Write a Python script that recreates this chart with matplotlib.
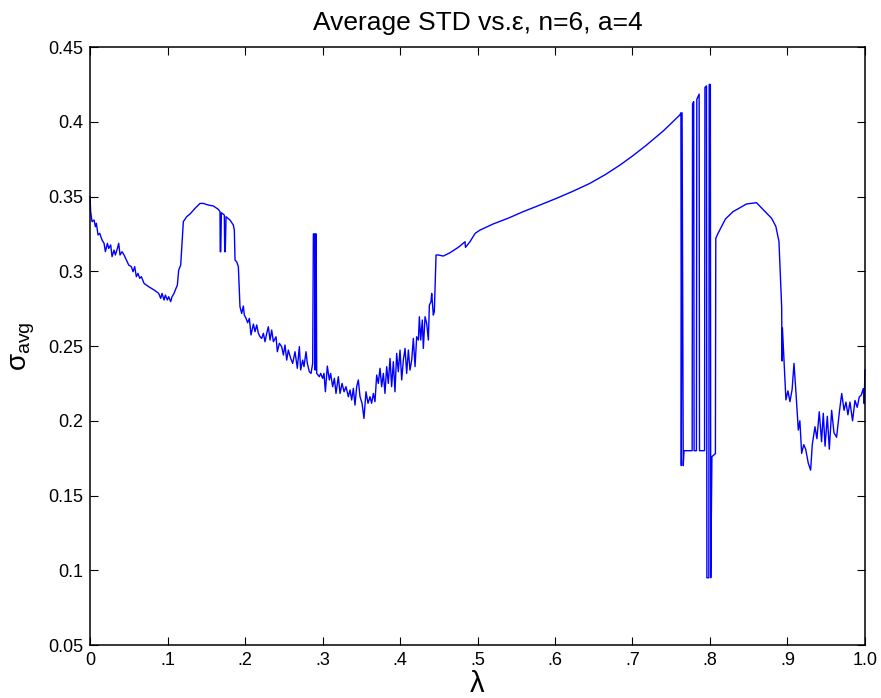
import numpy as np
import matplotlib.pyplot as plt

plt.rcParams['font.family'] = ['Liberation Sans', 'DejaVu Sans']
plt.rcParams['mathtext.fontset'] = 'custom'
plt.rcParams['mathtext.rm'] = 'Liberation Sans'
plt.rcParams['mathtext.it'] = 'Liberation Sans:italic'

# noisy decline from 0 up to the first jump
lam_a = [0.0, 0.0008, 0.0026, 0.0052, 0.0069, 0.0082, 0.0103, 0.0125, 0.0155, 0.0181,
         0.0198, 0.0224, 0.0241, 0.0267, 0.0284, 0.0310, 0.0327, 0.0353, 0.0370, 0.0387,
         0.0413, 0.0439, 0.0469, 0.0499, 0.0533, 0.0555, 0.0576, 0.0598, 0.0619, 0.0641,
         0.0662, 0.0697, 0.0727, 0.0757, 0.0791, 0.0826, 0.0856, 0.0886, 0.0912, 0.0929,
         0.0955, 0.0972, 0.0998, 0.1015, 0.1041, 0.1058, 0.1084, 0.1101, 0.1127, 0.1144,
         0.1170]
sig_a = [0.3499, 0.3399, 0.3332, 0.3343, 0.3298, 0.3321, 0.3243, 0.3254, 0.3209, 0.3187,
         0.3131, 0.3187, 0.3153, 0.3176, 0.3098, 0.3142, 0.3109, 0.3153, 0.3187, 0.3109,
         0.3131, 0.3109, 0.3075, 0.3042, 0.3031, 0.2997, 0.3031, 0.2964, 0.2986, 0.2953,
         0.2964, 0.2919, 0.2908, 0.2897, 0.2886, 0.2875, 0.2864, 0.2852, 0.2819, 0.2852,
         0.2808, 0.2841, 0.2808, 0.2830, 0.2797, 0.2830, 0.2852, 0.2875, 0.2908, 0.3008,
         0.3042]

# first plateau and second decline
lam_b = [0.1204, 0.1247, 0.1290, 0.1355, 0.1419, 0.1462, 0.1527, 0.1591, 0.1656, 0.1677,
         0.1680, 0.1687, 0.1695, 0.1733, 0.1738, 0.1745, 0.1755, 0.1806, 0.1849, 0.1862,
         0.1871, 0.1892, 0.1914, 0.1935, 0.1957, 0.1978, 0.1991, 0.2013, 0.2034, 0.2056,
         0.2077, 0.2108, 0.2129, 0.2151, 0.2172, 0.2194, 0.2215, 0.2237, 0.2258, 0.2280,
         0.2301, 0.2323, 0.2344, 0.2366, 0.2400, 0.2417, 0.2443, 0.2473, 0.2495, 0.2516,
         0.2538, 0.2559, 0.2589, 0.2615, 0.2645, 0.2675, 0.2701, 0.2718, 0.2744, 0.2761,
         0.2787]
sig_b = [0.3332, 0.3365, 0.3383, 0.3421, 0.3454, 0.3454, 0.3443, 0.3437, 0.3414, 0.3399,
         0.3131, 0.3131, 0.3392, 0.3376, 0.3131, 0.3131, 0.3365, 0.3343, 0.3309, 0.3276,
         0.3075, 0.3064, 0.3031, 0.2763, 0.2718, 0.2768, 0.2707, 0.2685, 0.2656, 0.2685,
         0.2574, 0.2647, 0.2596, 0.2641, 0.2585, 0.2562, 0.2551, 0.2585, 0.2529, 0.2585,
         0.2629, 0.2540, 0.2607, 0.2529, 0.2562, 0.2462, 0.2518, 0.2496, 0.2440, 0.2507,
         0.2406, 0.2473, 0.2418, 0.2384, 0.2462, 0.2351, 0.2496, 0.2340, 0.2406, 0.2362,
         0.2462]

# spike near .29, valley and rise to .45
lam_c = [0.2804, 0.2830, 0.2852, 0.2873, 0.2882, 0.2899, 0.2905, 0.2912, 0.2918, 0.2925,
         0.2959, 0.2976, 0.3002, 0.3019, 0.3037, 0.3062, 0.3088, 0.3105, 0.3131, 0.3153,
         0.3174, 0.3204, 0.3226, 0.3252, 0.3278, 0.3303, 0.3333, 0.3355, 0.3376, 0.3398,
         0.3419, 0.3441, 0.3462, 0.3484, 0.3510, 0.3535, 0.3561, 0.3587, 0.3613, 0.3634,
         0.3656, 0.3677, 0.3699, 0.3720, 0.3742, 0.3763, 0.3785, 0.3806, 0.3828, 0.3849,
         0.3871, 0.3892, 0.3914, 0.3935, 0.3957, 0.3978, 0.4000, 0.4022, 0.4043, 0.4065,
         0.4086, 0.4108, 0.4129, 0.4151, 0.4172, 0.4194, 0.4215, 0.4237, 0.4250, 0.4267,
         0.4288, 0.4301, 0.4323, 0.4344, 0.4366, 0.4379, 0.4400, 0.4409, 0.4430, 0.4443,
         0.4465, 0.4495, 0.4559, 0.4645, 0.4731, 0.4774]
sig_c = [0.2384, 0.2328, 0.2317, 0.2384, 0.3250, 0.3250, 0.2339, 0.3250, 0.3250, 0.2317,
         0.2295, 0.2317, 0.2284, 0.2317, 0.2194, 0.2366, 0.2273, 0.2317, 0.2228, 0.2284,
         0.2183, 0.2295, 0.2183, 0.2250, 0.2194, 0.2228, 0.2161, 0.2206, 0.2139, 0.2217,
         0.2105, 0.2228, 0.2273, 0.2161, 0.2117, 0.2016, 0.2194, 0.2117, 0.2161, 0.2117,
         0.2183, 0.2128, 0.2306, 0.2250, 0.2351, 0.2228, 0.2317, 0.2183, 0.2362, 0.2250,
         0.2417, 0.2228, 0.2395, 0.2194, 0.2451, 0.2328, 0.2473, 0.2273, 0.2406, 0.2484,
         0.2317, 0.2473, 0.2339, 0.2406, 0.2551, 0.2362, 0.2562, 0.2540, 0.2696, 0.2540,
         0.2674, 0.2484, 0.2696, 0.2652, 0.2540, 0.2774, 0.2797, 0.2852, 0.2707, 0.2730,
         0.3109, 0.3109, 0.3102, 0.3124, 0.3153, 0.3169]

# smooth climb
lam_d = [0.4839, 0.4845, 0.4903, 0.4970, 0.5030, 0.5200, 0.5400, 0.5590, 0.5800, 0.6020,
         0.6230, 0.6450, 0.6650, 0.6840, 0.7010, 0.7180, 0.7400, 0.7610]
sig_d = [0.3198, 0.3160, 0.3198, 0.3254, 0.3275, 0.3316, 0.3356, 0.3399, 0.3442, 0.3488,
         0.3535, 0.3588, 0.3647, 0.3711, 0.3775, 0.3844, 0.3940, 0.4045]

# switching spikes around .8
lam_e = [0.7625, 0.7630, 0.7640, 0.7655, 0.7665, 0.7770, 0.7775, 0.7790, 0.7795, 0.7825,
         0.7830, 0.7860, 0.7865, 0.7930, 0.7935, 0.7955, 0.7960, 0.7985, 0.7990, 0.8005,
         0.8010, 0.8025, 0.8070, 0.8075, 0.8100]
sig_e = [0.4060, 0.1700, 0.4060, 0.1700, 0.1800, 0.1800, 0.4120, 0.4135, 0.1800, 0.1800,
         0.4150, 0.4185, 0.1800, 0.1800, 0.4230, 0.4240, 0.0950, 0.0950, 0.4250, 0.4250,
         0.0950, 0.1760, 0.1780, 0.3220, 0.3250]

# second plateau and noisy tail
lam_f = [0.8150, 0.8200, 0.8300, 0.8387, 0.8470, 0.8600, 0.8710, 0.8796, 0.8850, 0.8890,
         0.8925, 0.8930, 0.8935, 0.8980, 0.9006, 0.9032, 0.9060, 0.9084, 0.9110, 0.9140,
         0.9160, 0.9183, 0.9210, 0.9235, 0.9269, 0.9299, 0.9320, 0.9355, 0.9380, 0.9410,
         0.9440, 0.9462, 0.9485, 0.9514, 0.9540, 0.9570, 0.9600, 0.9634, 0.9670, 0.9700,
         0.9730, 0.9755, 0.9780, 0.9806, 0.9840, 0.9871, 0.9900, 0.9927, 0.9950, 0.9978,
         0.9990, 1.0000]
sig_f = [0.3300, 0.3350, 0.3400, 0.3425, 0.3450, 0.3459, 0.3400, 0.3354, 0.3300, 0.3200,
         0.2763, 0.2400, 0.2620, 0.2140, 0.2200, 0.2128, 0.2210, 0.2384, 0.2185, 0.1938,
         0.2000, 0.1782, 0.1840, 0.1810, 0.1715, 0.1670, 0.1840, 0.1960, 0.1880, 0.2060,
         0.1860, 0.2050, 0.1830, 0.2030, 0.1810, 0.2070, 0.1920, 0.1890, 0.2060, 0.2183,
         0.2070, 0.2125, 0.2040, 0.2125, 0.2000, 0.2136, 0.2090, 0.2160, 0.2170, 0.2215,
         0.2115, 0.2340]

x_ticks = [0, 0.1, 0.2, 0.3, 0.4, 0.5, 0.6, 0.7, 0.8, 0.9, 1.0]
x_tick_labels = ['0', '.1', '.2', '.3', '.4', '.5', '.6', '.7', '.8', '.9', '1.0']
y_ticks = [0.05, 0.1, 0.15, 0.2, 0.25, 0.3, 0.35, 0.4, 0.45]
y_tick_labels = ['0.05', '0.1', '0.15', '0.2', '0.25', '0.3', '0.35', '0.4', '0.45']

lam = np.concatenate([lam_a, lam_b, lam_c, lam_d, lam_e, lam_f])
sig = np.concatenate([sig_a, sig_b, sig_c, sig_d, sig_e, sig_f])

fig = plt.figure(figsize=(8.81, 6.98), dpi=100)
ax = fig.add_axes([0.1022, 0.0759, 0.8796, 0.8567])
ax.plot(lam, sig, color='#0000ff', lw=1.0, clip_on=False)

ax.set_xlim(0, 1)
ax.set_ylim(0.05, 0.45)
ax.set_xticks(x_ticks)
ax.set_xticklabels(x_tick_labels)
ax.set_yticks(y_ticks)
ax.set_yticklabels(y_tick_labels)
ax.tick_params(direction='in', top=True, right=True, length=6, width=0.8,
               labelsize=13, pad=5)
for s in ax.spines.values():
    s.set_linewidth(1.1)

ax.set_title('Average STD vs.\u03b5, n=6, a=4', fontsize=19, pad=12)
ax.set_xlabel('\u03bb', fontsize=21, labelpad=1)
ax.set_ylabel('\u03c3$_{\\rm avg}$', fontsize=20, labelpad=8)

fig.savefig('out.png', dpi=100)
